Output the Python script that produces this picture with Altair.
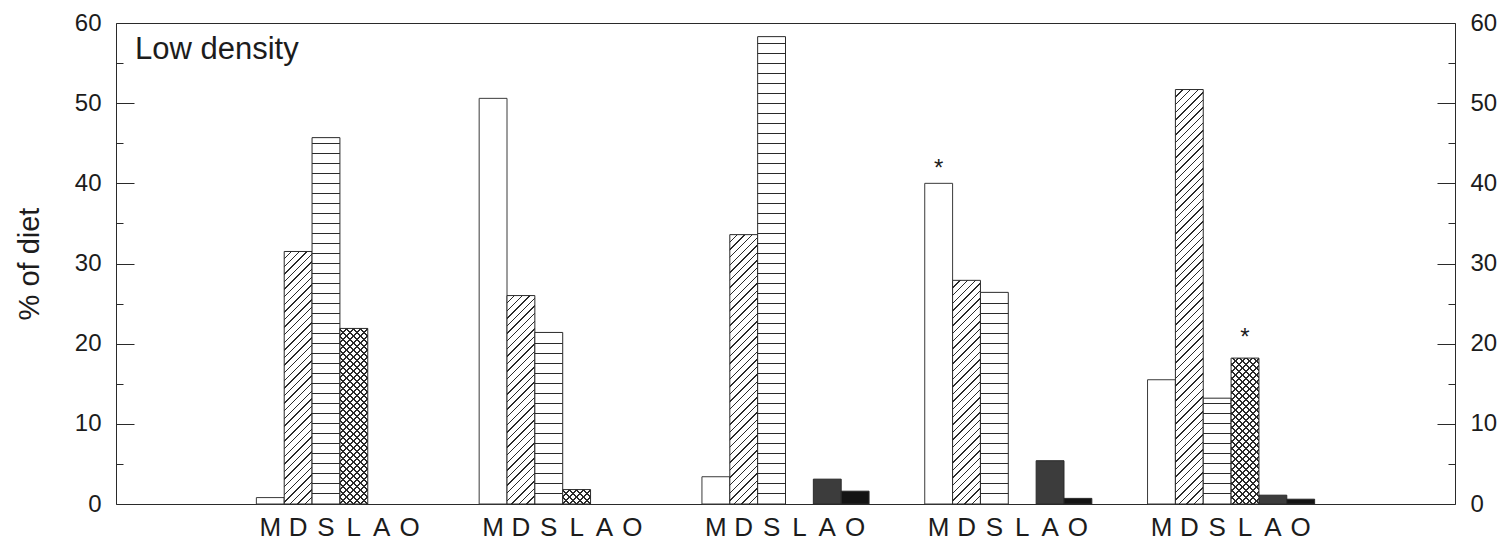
import altair as alt
import pandas as pd

# ---------------- data ----------------
groups = ["1", "2", "3", "4", "5"]
cats = ["M", "D", "S", "L", "A", "O"]
M = [0.8, 50.6, 3.4, 40.0, 15.5]
D = [31.5, 26.0, 33.6, 27.9, 51.7]
S = [45.7, 21.4, 58.3, 26.4, 13.2]
L = [21.9, 1.8, 0.0, 0.0, 18.2]
A = [0.0, 0.0, 3.1, 5.4, 1.1]
O = [0.0, 0.0, 1.6, 0.7, 0.6]
star_group = ["4", "5"]
star_cat = ["M", "L"]
star_y = [42.6, 21.6]
panel_label = ["Low density"]
y_title = "% of diet"

series = {"M": M, "D": D, "S": S, "L": L, "A": A, "O": O}
df = pd.DataFrame(
    [{"group": g, "cat": c, "value": series[c][i]} for i, g in enumerate(groups) for c in cats]
)
stars = pd.DataFrame({"group": star_group, "cat": star_cat, "y": star_y})
label_df = pd.DataFrame({"label": panel_label})

# ---------------- layout / style ----------------
W, H = 1339, 481
PI, PO = 0.25, 0.63
step = W / (len(groups) - PI + 2 * PO)
BAR_W = step * (1 - PI) / len(cats)
PX = H / 60.0

FONT = "Liberation Sans"
INK = "#1c1c1c"
LINE = "#2a2a2a"
CLEAR = "rgba(255,255,255,0)"

xs = alt.Scale(domain=groups, paddingInner=PI, paddingOuter=PO)
xos = alt.Scale(domain=cats, paddingInner=0, paddingOuter=0)
ys = alt.Scale(domain=[0, 60], nice=False, zero=True)

tick_dash = {
    "condition": {"test": "datum.value % 10 === 0", "value": [18, 4000]},
    "value": [7, 4000],
}


def yaxis(orient, title):
    kw = dict(
        orient=orient,
        values=list(range(0, 61, 5)),
        labelExpr="datum.value % 10 === 0 ? datum.label : ''",
        ticks=False,
        domain=False,
        grid=True,
        gridDash=tick_dash,
        gridColor=LINE,
        gridWidth=1,
        labelFont=FONT,
        labelFontSize=24,
        labelColor=INK,
        labelPadding=15,
        labelFlush=False,
        labelOverlap=False,
        labelBound=False,
    )
    if title:
        kw.update(title=title, titleFont=FONT, titleFontSize=29, titleFontWeight="normal",
                  titleColor=INK, titlePadding=30)
    else:
        kw["title"] = None
    return alt.Axis(**kw)


def enc(axis=None):
    return dict(
        x=alt.X("group:N", scale=xs, axis=None),
        xOffset=alt.XOffset("cat:N", scale=xos),
        y=alt.Y("value:Q", scale=ys, axis=axis),
    )


def stops(centers, half, fg, bg):
    st = [{"offset": 0, "color": bg}]
    last = 0.0
    for c in sorted(centers):
        a = max(last, c - half)
        b = min(1.0, c + half)
        if b <= a:
            continue
        st += [
            {"offset": round(a, 6), "color": bg},
            {"offset": round(a, 6), "color": fg},
            {"offset": round(b, 6), "color": fg},
            {"offset": round(b, 6), "color": bg},
        ]
        last = b
    st.append({"offset": 1, "color": bg})
    return st


def hlines(h, sp=10, bg="white"):
    # lines measured from the bar's base so they fall on whole pixel rows
    centers = []
    k = 1
    while k * sp + 0.5 < h - 3:
        centers.append((h - (k * sp + 0.5)) / h)
        k += 1
    return {"gradient": "linear", "x1": 0, "y1": 0, "x2": 0.000001, "y2": 1,
            "stops": stops(centers, 0.5 / h, LINE, bg)}


def diag(h, direction, sp, thick, bg):
    w = BAR_W
    T = w + h
    dx = w * T / (w * w + h * h)
    dy = h * T / (w * w + h * h)
    centers = []
    k = 1
    while k * sp < T:
        centers.append(k * sp / T)
        k += 1
    st = stops(centers, thick * 1.414 / 2 / T, LINE, bg)
    if direction == "/":
        return {"gradient": "linear", "x1": 0, "y1": 0, "x2": dx, "y2": dy, "stops": st}
    y2 = 1 - dy
    if abs(y2) < 1e-6:
        y2 = -0.000001
    return {"gradient": "linear", "x1": 0, "y1": 1, "x2": dx, "y2": y2, "stops": st}


base = alt.Chart(df)
layers = []

layers.append(
    base.transform_filter("datum.cat === 'M' && datum.value > 0")
    .mark_bar(fill="white", stroke="#3a3a3a", strokeWidth=1)
    .encode(**enc(yaxis("left", y_title)))
)
layers.append(
    base.transform_filter("datum.cat === 'A' && datum.value > 0")
    .mark_bar(fill="#3c3c3c", stroke=LINE, strokeWidth=1)
    .encode(**enc(yaxis("right", None)))
)
layers.append(
    base.transform_filter("datum.cat === 'O' && datum.value > 0")
    .mark_bar(fill="#141414", stroke=LINE, strokeWidth=1)
    .encode(**enc(None))
)

for i, g in enumerate(groups):
    for c in ["D", "S", "L"]:
        v = series[c][i]
        if v <= 0:
            continue
        h = v * PX
        flt = f"datum.group === '{g}' && datum.cat === '{c}'"
        if c == "S":
            fills = [hlines(h)]
        elif c == "D":
            fills = [diag(h, "/", 7.6, 1.0, "white")]
        else:
            fills = [diag(h, "/", 7.0, 1.3, "white"), diag(h, "\\", 7.0, 1.3, CLEAR)]
        for k, f in enumerate(fills):
            mk = dict(fill=f)
            if k == len(fills) - 1:
                mk.update(stroke=LINE, strokeWidth=1)
            else:
                mk.update(strokeWidth=0)
            layers.append(base.transform_filter(flt).mark_bar(**mk).encode(**enc(None)))

letters = base.mark_text(font=FONT, fontSize=26, color=INK, baseline="middle").encode(
    x=alt.X("group:N", scale=xs, axis=None),
    xOffset=alt.XOffset("cat:N", scale=xos),
    y=alt.value(H + 24),
    text="cat:N",
)

star_layer = alt.Chart(stars).mark_text(
    text="*", font=FONT, fontSize=24, color=INK, baseline="alphabetic", dy=14
).encode(
    x=alt.X("group:N", scale=xs, axis=None),
    xOffset=alt.XOffset("cat:N", scale=xos),
    y=alt.Y("y:Q", scale=ys, axis=None),
)

label_layer = alt.Chart(label_df).mark_text(
    font=FONT, fontSize=31, color=INK, align="left", baseline="middle"
).encode(text="label:N", x=alt.value(19), y=alt.value(27))

chart = (
    alt.layer(*layers, letters, star_layer, label_layer)
    .resolve_axis(y="independent")
    .properties(
        width=W,
        height=H,
        autosize=alt.AutoSizeParams(type="none"),
        padding={"left": 108, "top": 15, "right": 44, "bottom": 40},
    )
    .configure_view(stroke=LINE, strokeWidth=1)
)

chart.save("out.html", embed_options={"renderer": "svg", "actions": False})
